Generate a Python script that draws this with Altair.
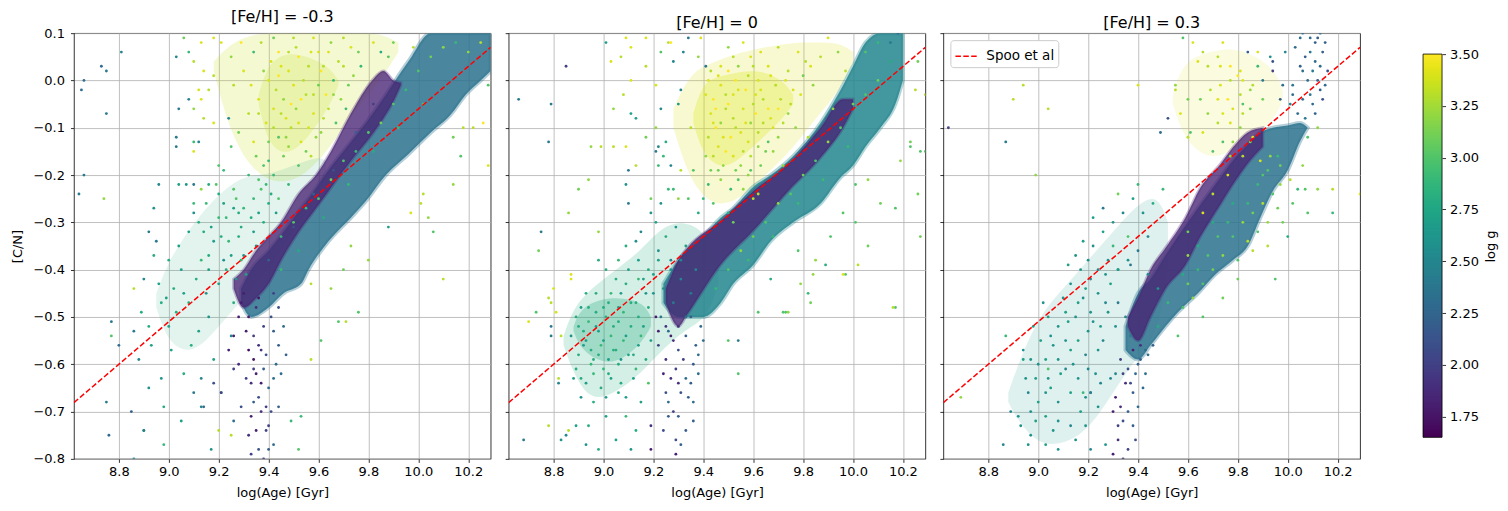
import altair as alt
import pandas as pd

FONT = "DejaVu Sans"
TITLES = ["[Fe/H] = -0.3", "[Fe/H] = 0", "[Fe/H] = 0.3"]
X_DOMAIN = [8.62, 10.29]
Y_DOMAIN = [-0.8, 0.1]
G_DOMAIN = [1.65, 3.5]
CB_VIEW = [1.546, 3.601]
X_TICKS = [8.8, 9.0, 9.2, 9.4, 9.6, 9.8, 10.0, 10.2]
Y_TICKS = [-0.8, -0.7, -0.6, -0.5, -0.4, -0.3, -0.2, -0.1, 0.0, 0.1]
G_TICKS = [1.75, 2.0, 2.25, 2.5, 2.75, 3.0, 3.25, 3.5]
SPOO_LABEL = ["Spoo et al", "Spoo et al"]
SPOO_X = [8.62, 10.29]
SPOO_Y = [-0.681, 0.070]

# ---------------- dense bands (x, lower edge, upper edge) and their log g --------
P1_TEAL_X = [9.29, 9.33, 9.40, 9.46, 9.53, 9.56, 9.64, 9.73, 9.79, 9.87, 9.96, 10.05, 10.13, 10.19, 10.25, 10.29]
P1_TEAL_LO = [-0.47, -0.50, -0.48, -0.45, -0.43, -0.40, -0.34, -0.29, -0.255, -0.20, -0.156, -0.11, -0.072, -0.03, 0.0, 0.02]
P1_TEAL_HI = [-0.44, -0.40, -0.36, -0.32, -0.27, -0.25, -0.19, -0.13, -0.09, -0.03, 0.04, 0.10, 0.10, 0.10, 0.10, 0.10]
P1_PURP_X = [9.26, 9.30, 9.35, 9.40, 9.45, 9.52, 9.59, 9.65, 9.73, 9.815, 9.86, 9.90, 9.93]
P1_PURP_LO = [-0.44, -0.48, -0.46, -0.43, -0.38, -0.32, -0.27, -0.227, -0.17, -0.114, -0.08, -0.044, -0.01]
P1_PURP_HI = [-0.42, -0.40, -0.36, -0.33, -0.30, -0.24, -0.20, -0.15, -0.07, 0.0, 0.02, 0.0, -0.005]
P1_YELW_X = [9.18, 9.25, 9.35, 9.45, 9.55, 9.65, 9.75, 9.85, 9.92]
P1_YELW_LO = [0.02, -0.12, -0.20, -0.22, -0.20, -0.14, -0.06, 0.0, 0.06]
P1_YELW_HI = [0.04, 0.08, 0.10, 0.10, 0.10, 0.10, 0.10, 0.10, 0.08]
P1_YELC_X = [9.36, 9.40, 9.48, 9.56, 9.64, 9.68]
P1_YELC_LO = [-0.05, -0.14, -0.16, -0.12, -0.06, -0.01]
P1_YELC_HI = [-0.03, 0.04, 0.06, 0.05, 0.03, 0.0]
P1_GRNW_X = [8.95, 9.00, 9.10, 9.20, 9.30, 9.40, 9.50, 9.60, 9.63]
P1_GRNW_LO = [-0.48, -0.56, -0.58, -0.52, -0.46, -0.40, -0.32, -0.24, -0.19]
P1_GRNW_HI = [-0.45, -0.38, -0.30, -0.24, -0.20, -0.20, -0.18, -0.16, -0.17]

P2_TEAL_X = [9.24, 9.30, 9.40, 9.47, 9.52, 9.60, 9.67, 9.76, 9.87, 9.95, 10.00, 10.05, 10.11, 10.17, 10.20]
P2_TEAL_LO = [-0.47, -0.50, -0.50, -0.47, -0.43, -0.39, -0.34, -0.30, -0.26, -0.205, -0.18, -0.14, -0.10, -0.05, 0.0]
P2_TEAL_HI = [-0.43, -0.38, -0.33, -0.29, -0.27, -0.225, -0.20, -0.16, -0.09, -0.02, 0.03, 0.08, 0.10, 0.10, 0.10]
P2_PURP_X = [9.25, 9.30, 9.336, 9.47, 9.60, 9.74, 9.87, 9.96, 10.00]
P2_PURP_LO = [-0.47, -0.52, -0.494, -0.389, -0.318, -0.234, -0.163, -0.10, -0.06]
P2_PURP_HI = [-0.44, -0.38, -0.354, -0.297, -0.234, -0.177, -0.10, -0.04, -0.04]
P2_YELW_X = [9.28, 9.35, 9.45, 9.55, 9.65, 9.75, 9.85, 9.95, 10.00]
P2_YELW_LO = [-0.10, -0.22, -0.27, -0.25, -0.20, -0.15, -0.08, -0.02, 0.04]
P2_YELW_HI = [-0.06, 0.02, 0.04, 0.06, 0.07, 0.08, 0.08, 0.08, 0.06]
P2_YELC_X = [9.36, 9.40, 9.48, 9.56, 9.64, 9.72, 9.76]
P2_YELC_LO = [-0.09, -0.16, -0.19, -0.16, -0.12, -0.08, -0.05]
P2_YELC_HI = [-0.07, 0.0, 0.01, 0.02, 0.02, 0.0, -0.03]
P2_GRNW_X = [8.84, 8.88, 8.95, 9.05, 9.15, 9.25, 9.35, 9.42, 9.46]
P2_GRNW_LO = [-0.56, -0.62, -0.68, -0.66, -0.62, -0.56, -0.52, -0.50, -0.43]
P2_GRNW_HI = [-0.54, -0.48, -0.44, -0.40, -0.36, -0.30, -0.30, -0.33, -0.40]
P2_GRNC_X = [8.88, 8.91, 9.00, 9.08, 9.16, 9.19]
P2_GRNC_LO = [-0.53, -0.57, -0.60, -0.59, -0.55, -0.52]
P2_GRNC_HI = [-0.52, -0.48, -0.46, -0.46, -0.47, -0.50]

P3_TEAL_X = [9.35, 9.40, 9.45, 9.51, 9.56, 9.64, 9.71, 9.78, 9.84, 9.89, 9.94, 10.00, 10.05, 10.08]
P3_TEAL_LO = [-0.57, -0.59, -0.56, -0.52, -0.49, -0.45, -0.41, -0.38, -0.35, -0.29, -0.234, -0.19, -0.128, -0.10]
P3_TEAL_HI = [-0.52, -0.45, -0.42, -0.37, -0.33, -0.27, -0.22, -0.17, -0.135, -0.11, -0.10, -0.095, -0.09, -0.10]
P3_PURP_X = [9.36, 9.40, 9.45, 9.51, 9.59, 9.65, 9.73, 9.78, 9.84, 9.90]
P3_PURP_LO = [-0.52, -0.55, -0.50, -0.44, -0.39, -0.33, -0.262, -0.22, -0.175, -0.14]
P3_PURP_HI = [-0.50, -0.46, -0.40, -0.354, -0.29, -0.227, -0.177, -0.142, -0.11, -0.10]
P3_YELW_X = [9.54, 9.58, 9.68, 9.78, 9.88, 9.95, 9.98]
P3_YELW_LO = [-0.05, -0.12, -0.17, -0.15, -0.11, -0.08, -0.04]
P3_YELW_HI = [-0.03, 0.04, 0.06, 0.07, 0.05, 0.02, -0.02]
P3_GRNW_X = [8.88, 8.92, 9.00, 9.10, 9.20, 9.30, 9.40, 9.48, 9.52]
P3_GRNW_LO = [-0.68, -0.72, -0.77, -0.77, -0.74, -0.66, -0.58, -0.54, -0.40]
P3_GRNW_HI = [-0.66, -0.60, -0.50, -0.44, -0.38, -0.32, -0.26, -0.24, -0.30]

BAND_G_TEAL = [2.35, 2.5, 2.35]
BAND_G_PURP = [1.82, 1.82, 1.82]
BAND_G_YELW = [3.35, 3.4, 3.4]
BAND_G_GRNW = [2.85, 2.8, 2.65]

# ---------------- individual stars (logAge, [C/N], log g) ----------------
P1_OUT = [(8.66,0.00,2.3),(8.65,-0.02,2.3),(8.73,0.03,2.3),(8.75,0.02,2.4),(8.75,-0.07,2.4),(8.81,0.06,2.5),
          (8.66,-0.20,2.4),(8.64,-0.24,2.4),(8.74,-0.25,3.2),(8.96,-0.22,2.5),(8.94,-0.27,2.6),(8.92,-0.32,2.4),
          (8.95,-0.34,2.4),(9.03,0.05,2.5),(9.04,-0.06,2.4),(9.03,-0.12,2.4),(9.03,-0.14,2.4),(9.08,-0.04,2.5),
          (9.12,-0.13,2.5),(9.10,-0.22,2.4),(10.18,-0.10,3.3),(10.14,-0.12,3.1),(10.17,-0.16,3.0),(10.22,-0.10,3.3),
          (10.14,-0.22,3.2),(10.02,-0.24,3.3),(10.01,-0.26,3.3),(10.04,-0.29,3.2),(10.06,-0.32,3.0),(9.97,-0.28,3.4),
          (9.88,-0.31,2.7),(9.73,-0.35,3.2),(10.28,-0.18,3.4),(10.26,-0.09,3.5),(10.28,-0.01,3.0),(9.70,-0.40,3.1),
          (9.65,-0.44,3.2),(9.57,-0.43,3.3),(9.76,-0.49,3.0),(9.68,-0.51,3.0),(9.71,-0.51,3.3),(9.61,-0.55,3.0),
          (9.57,-0.59,3.3),(9.80,-0.38,3.2),(10.10,-0.42,3.3),(8.77,-0.51,2.4),(8.77,-0.54,3.0),(8.75,-0.68,2.4),
          (8.76,-0.75,2.3),(9.49,-0.72,2.9),(9.53,-0.71,2.9),(9.52,-0.78,3.0)]
P1_YEL = [(9.06,0.09,3.1),(9.13,0.08,3.4),(9.18,0.09,3.4),(9.10,0.04,3.3),(9.14,0.02,3.4),(9.08,0.06,2.9),
          (9.18,0.01,3.3),(9.12,-0.02,3.4),(9.16,-0.02,3.3),(9.13,-0.04,3.4),(9.10,-0.06,3.2),(9.14,-0.08,3.3),
          (9.18,-0.09,3.4),(9.10,-0.13,2.9),(9.10,-0.15,3.4),(9.20,-0.18,3.0),(9.22,-0.19,2.9),(9.16,-0.22,2.8),
          (9.07,-0.22,2.6),(9.13,-0.23,3.2),(9.04,-0.22,2.7),(9.21,0.08,3.4),(9.25,0.05,3.2),(9.29,0.08,3.5),
          (9.26,-0.01,3.3),(9.30,0.02,3.4),(9.34,0.06,2.9),(9.36,-0.04,3.4),(9.32,-0.07,3.3),(9.24,-0.08,2.5),
          (9.28,-0.11,3.1),(9.34,-0.13,3.4),(9.25,-0.14,3.0),(9.37,0.08,3.3),(9.41,0.04,3.4),(9.44,0.01,3.5),
          (9.48,0.06,3.3),(9.50,-0.01,3.4),(9.46,-0.04,3.2),(9.42,-0.06,3.4),(9.53,-0.04,3.5),(9.56,0.03,3.3),
          (9.60,-0.01,3.1),(9.58,-0.07,3.4),(9.49,-0.10,3.3),(9.44,-0.12,3.0),(9.53,-0.13,3.4),(9.61,-0.11,3.2),
          (9.64,-0.06,3.3),(9.66,0.00,2.9),(9.68,0.04,3.3),(9.73,0.07,3.4),(9.65,0.08,3.2),(9.58,0.09,3.4),
          (9.50,0.09,3.3),(9.42,0.09,3.1),(9.46,-0.16,3.1),(9.40,-0.17,2.9),(9.57,-0.16,3.3),(9.72,-0.01,3.1),
          (9.77,0.03,2.9),(9.82,0.08,3.4),(9.88,0.05,3.0),(9.45,0.03,3.4),(9.52,0.05,3.5),(9.55,-0.03,3.3),
          (9.47,-0.08,3.4),(9.51,-0.06,3.2),(9.56,-0.10,3.4),(9.62,0.03,3.3),(9.63,-0.03,3.5),(9.69,-0.04,3.2),
          (9.43,-0.02,3.3),(9.39,-0.09,3.4),(9.38,0.02,3.2),(9.60,0.06,3.4),(9.70,0.09,3.3),(9.76,0.06,3.1),
          (9.35,-0.16,3.1),(9.48,-0.14,3.2),(9.52,-0.18,3.0),(9.40,0.00,3.4),(9.42,-0.10,3.3),(9.44,0.06,3.5),
          (9.45,-0.07,3.3),(9.47,-0.12,3.2),(9.48,0.02,3.4),(9.49,-0.05,3.5),(9.51,0.07,3.3),(9.52,-0.09,3.4),
          (9.54,0.00,3.3),(9.55,-0.15,3.1),(9.57,0.06,3.4),(9.58,-0.03,3.3),(9.59,-0.12,3.2),(9.61,0.02,3.5),
          (9.62,-0.08,3.3),(9.64,0.06,3.4),(9.66,-0.03,3.2),(9.67,-0.09,3.0),(9.70,0.03,3.3),(9.71,-0.06,2.9),
          (9.74,0.01,3.2),(9.40,-0.13,3.1),(9.36,-0.07,3.3),(9.33,-0.01,3.4)]
P1_GRN = [(8.86,-0.44,3.3),(8.90,-0.42,2.5),(8.89,-0.49,2.8),(8.88,-0.59,2.5),(8.86,-0.53,2.4),(8.80,-0.56,2.3),
          (8.92,-0.52,2.8),(8.93,-0.56,2.7),(8.96,-0.43,2.7),(8.97,-0.47,2.8),(9.00,-0.52,2.7),(9.02,-0.44,2.8),
          (9.01,-0.57,2.7),(8.97,-0.63,2.6),(8.92,-0.65,2.6),(8.90,-0.74,2.9),(8.86,-0.80,2.5),(8.98,-0.69,2.8),
          (8.98,-0.77,2.9),(9.05,-0.40,2.7),(9.08,-0.47,2.8),(9.09,-0.56,2.8),(9.13,-0.63,2.5),(9.16,-0.50,2.6),
          (9.20,-0.43,2.7),(9.18,-0.59,2.7),(9.21,-0.66,2.6),(9.25,-0.54,2.5),(9.13,-0.69,2.5),(9.17,-0.78,2.6),
          (9.05,-0.72,2.7),(9.10,-0.66,2.4),(8.94,-0.37,2.8),(9.00,-0.38,2.8),(9.13,-0.38,2.9),(9.06,-0.62,2.8),
          (9.26,-0.47,2.8),(9.29,-0.38,2.9),(8.85,-0.70,2.2),(8.90,-0.74,2.4),(9.20,-0.74,3.3),(9.25,-0.75,3.3),
          (9.20,-0.24,2.8),(9.26,-0.23,3.0),(9.32,-0.20,2.9),(9.26,-0.27,2.7),(9.20,-0.29,2.9),(9.14,-0.32,2.8),
          (9.10,-0.28,2.6),(9.08,-0.32,2.7),(9.04,-0.35,2.7),(9.16,-0.37,2.8),(9.24,-0.34,2.9),(9.29,-0.31,2.8),
          (9.34,-0.25,2.9),(9.37,-0.23,3.0),(9.34,-0.32,2.7),(9.30,-0.37,2.6),(9.38,-0.18,3.0),(9.42,-0.20,2.9),
          (9.22,-0.26,2.7),(9.10,-0.26,2.9),(9.06,-0.45,2.7),(9.11,-0.42,2.8),(9.15,-0.45,2.6),(9.03,-0.49,2.8),
          (8.99,-0.46,2.7),(9.12,-0.53,2.7),(9.23,-0.40,2.8),(9.27,-0.42,2.6),(9.18,-0.34,2.7),(9.28,-0.28,2.8),
          (9.36,-0.28,2.7),(9.40,-0.26,2.8),(9.44,-0.25,3.0),(9.48,-0.22,2.9),(9.12,-0.30,2.8),(9.15,-0.26,2.9),
          (9.17,-0.31,2.7),(9.19,-0.22,3.0),(9.21,-0.33,2.8),(9.23,-0.29,2.9),(9.25,-0.37,2.7),(9.27,-0.25,3.0),
          (9.28,-0.33,2.8),(9.30,-0.27,2.9),(9.31,-0.41,2.7),(9.33,-0.29,2.8),(9.35,-0.35,2.6),(9.36,-0.21,3.0),
          (9.38,-0.30,2.8),(9.39,-0.22,2.9),(9.41,-0.24,2.8),(9.43,-0.28,2.7),(9.22,-0.38,2.6),(9.16,-0.40,2.7)]
P1_TAIL = [(9.29,-0.47,1.8),(9.32,-0.50,1.8),(9.34,-0.54,2.0),(9.37,-0.57,1.9),(9.34,-0.61,2.0),(9.38,-0.61,2.2),
           (9.33,-0.64,1.9),(9.36,-0.67,2.1),(9.39,-0.69,2.0),(9.33,-0.71,1.8),(9.40,-0.65,2.3),(9.42,-0.63,2.3),
           (9.44,-0.56,2.2),(9.41,-0.50,2.1),(9.46,-0.52,2.3),(9.26,-0.54,1.8),(9.24,-0.57,1.8),(9.26,-0.61,2.0),
           (9.29,-0.69,2.1),(9.32,-0.75,1.9),(9.36,-0.78,2.1),(9.40,-0.73,2.0),(9.40,-0.78,2.2),(9.34,-0.59,1.75),
           (9.32,-0.57,1.7),(9.37,-0.64,1.8),(9.44,-0.69,2.2),(9.21,-0.66,2.0),(9.18,-0.64,2.1),(9.14,-0.69,2.3),
           (9.26,-0.72,2.3),(9.42,-0.77,2.3),(9.30,-0.45,1.8),(9.35,-0.48,1.9),(9.38,-0.52,2.0),(9.42,-0.53,2.2),
           (9.31,-0.53,1.8),(9.36,-0.56,1.9),(9.39,-0.58,2.1),(9.43,-0.60,2.3),(9.35,-0.62,1.8),(9.31,-0.63,2.0),
           (9.37,-0.70,1.9),(9.34,-0.68,2.2),(9.39,-0.74,2.0),(9.35,-0.74,1.8),(9.33,-0.79,2.0),(9.38,-0.80,1.9),
           (9.28,-0.60,1.9),(9.41,-0.70,2.1),(9.45,-0.62,2.3),(9.47,-0.58,2.2),(9.44,-0.48,2.1),(9.28,-0.50,1.8),
           (9.36,-0.46,1.75),(9.42,-0.45,2.0)]
P1_SPK = [(9.45,-0.33,2.9),(9.50,-0.30,3.0),(9.55,-0.27,2.9),(9.60,-0.25,3.0),(9.65,-0.21,3.1),(9.70,-0.17,3.0),
          (9.75,-0.15,2.9),(9.80,-0.11,3.0),(9.85,-0.09,3.1),(9.90,-0.05,3.0),(9.95,-0.02,2.9),(10.00,0.02,3.0),
          (10.05,0.05,3.1),(10.10,0.07,3.2),(10.15,0.08,2.9),(9.62,-0.29,2.8),(9.72,-0.22,2.9),(9.82,-0.15,2.8),
          (9.92,-0.10,2.9),(10.02,-0.05,3.0),(9.52,-0.36,2.8),(9.45,-0.40,2.9),(10.20,0.06,3.2),(10.25,0.08,3.3),
          (9.98,0.07,3.3),(9.90,0.08,3.1),(9.85,0.06,2.8),(9.40,-0.38,2.2),(9.50,-0.31,2.1),(9.58,-0.24,2.2),
          (9.66,-0.19,2.1),(9.75,-0.11,2.2),(9.82,-0.05,2.0)]

P2_OUT = [(8.66,-0.04,2.4),(8.79,-0.05,2.4),(8.85,0.03,2.0),(8.78,-0.13,2.4),(8.75,-0.32,2.4),(8.74,-0.36,3.1),
          (8.86,-0.28,3.2),(8.90,-0.23,3.1),(8.94,-0.21,3.2),(8.95,-0.14,3.2),(8.99,-0.14,3.3),(8.98,-0.32,3.2),
          (9.01,0.08,2.7),(9.04,-0.14,3.3),(9.04,-0.06,3.2),(9.08,-0.03,3.3),(9.09,-0.14,3.4),(9.03,0.04,3.4),
          (9.07,0.05,3.3),(9.09,0.09,3.4),(9.11,0.00,3.4),(9.11,0.07,3.4),(9.11,-0.07,2.7),(9.13,-0.08,2.7),
          (9.13,-0.18,3.3),(9.09,-0.22,2.6),(9.10,-0.26,2.4),(9.10,-0.19,2.4),(9.17,0.09,3.4),(9.17,0.03,3.3),
          (9.21,-0.01,3.4),(9.21,-0.15,2.4),(9.17,-0.12,3.1),(9.23,0.06,3.0),(9.26,0.08,3.3),(9.27,0.08,3.5),
          (9.34,0.09,2.4),(9.32,0.06,2.5),(9.28,0.04,2.5),(9.31,-0.02,2.5),(9.30,-0.05,2.6),(9.23,-0.06,2.5),
          (9.21,-0.10,3.2),(9.25,-0.13,2.8),(9.22,-0.18,2.9),(9.27,-0.18,2.5),(9.26,-0.23,2.9),(9.30,-0.25,3.2),
          (9.35,-0.10,3.3),(9.38,0.05,3.2),(9.39,0.09,3.4),(9.41,0.03,2.4),(9.19,-0.25,3.1),(9.19,-0.28,2.6),
          (9.15,-0.32,2.5),(9.13,-0.34,2.6),(9.09,-0.35,2.8),(10.29,-0.15,3.0),(10.26,-0.24,3.1),(10.17,-0.27,3.0),
          (10.11,-0.26,3.1),(10.27,-0.33,3.1),(10.17,-0.48,3.0),(10.06,-0.35,3.1),(10.01,-0.30,3.0),(9.96,-0.28,3.0),
          (9.91,-0.33,3.0),(9.85,-0.38,3.2),(9.78,-0.36,3.0),(9.82,-0.45,2.9),(9.97,-0.41,3.0),(9.72,-0.49,3.0),
          (9.83,-0.47,3.1),(10.19,-0.17,3.2),(10.23,-0.14,3.0),(10.25,-0.02,3.3),(10.29,-0.03,3.3),(10.26,0.04,3.1),
          (10.01,-0.22,3.0),(10.06,-0.21,3.2),(9.84,-0.41,3.2),(9.96,-0.41,3.4),(10.02,-0.39,3.3),(9.79,-0.43,3.2),
          (9.73,-0.49,3.0),(9.74,-0.49,3.2),(9.62,-0.49,3.0),(9.67,-0.42,2.8),(9.54,-0.62,3.0),(9.50,-0.55,3.0),
          (9.54,-0.55,2.4),(10.16,-0.48,3.3),(9.89,-0.39,2.8),(10.15,0.08,2.4),(10.18,0.10,2.3),(10.23,-0.13,3.1),
          (10.27,-0.15,3.0)]
P2_YEL = [(9.42,0.00,3.4),(9.44,-0.04,3.5),(9.47,-0.01,3.4),(9.50,-0.05,3.5),(9.54,-0.02,3.4),(9.56,-0.06,3.4),
          (9.52,-0.08,3.3),(9.47,-0.09,3.2),(9.43,-0.07,3.4),(9.42,-0.12,3.3),(9.46,-0.14,3.4),(9.51,-0.12,3.5),
          (9.55,-0.11,3.4),(9.59,-0.09,3.2),(9.60,-0.05,3.3),(9.63,-0.02,3.4),(9.66,-0.06,3.5),(9.68,-0.10,3.4),
          (9.71,-0.04,3.3),(9.74,-0.07,3.2),(9.76,-0.02,3.4),(9.67,0.01,3.4),(9.60,0.03,3.3),(9.54,0.03,3.2),
          (9.47,0.03,3.4),(9.74,0.02,3.3),(9.80,0.01,3.1),(9.83,0.03,3.4),(9.87,0.05,3.3),(9.94,0.06,3.2),
          (9.78,0.06,3.4),(9.70,0.07,3.3),(9.63,0.06,3.4),(9.56,0.08,3.4),(9.50,0.07,3.2),(9.90,0.09,3.4),
          (9.44,-0.16,3.3),(9.48,-0.18,3.2),(9.52,-0.16,3.4),(9.56,-0.15,3.3),(9.62,-0.14,3.2),(9.66,-0.13,3.0),
          (9.43,-0.19,3.1),(9.47,-0.21,3.2),(9.54,-0.21,3.0),(9.59,-0.19,3.0),(9.51,-0.23,2.9),(9.56,-0.23,3.2),
          (9.60,-0.25,3.3),(9.42,-0.22,2.9),(9.40,-0.25,2.9),(9.44,-0.26,3.0),(9.50,-0.28,2.8),(9.38,-0.28,2.8),
          (9.34,-0.25,3.0),(9.28,-0.23,2.9),(9.24,-0.16,2.9),(9.23,-0.26,2.6),(9.22,-0.14,2.5),(9.36,-0.19,3.0),
          (9.31,-0.19,3.3),(9.45,-0.10,3.5),(9.49,-0.03,3.3),(9.58,-0.13,3.4),(9.64,-0.09,3.3),(9.70,-0.12,3.2),
          (9.53,0.00,3.5),(9.61,-0.03,3.4),(9.41,-0.03,3.4),(9.43,0.02,3.3),(9.45,-0.06,3.5),(9.46,0.01,3.4),
          (9.48,-0.12,3.4),(9.49,-0.06,3.3),(9.50,0.02,3.5),(9.52,-0.03,3.4),(9.53,-0.10,3.3),(9.55,-0.18,3.2),
          (9.57,-0.02,3.5),(9.57,-0.09,3.4),(9.58,0.01,3.3),(9.59,-0.16,3.3),(9.61,-0.07,3.5),(9.62,-0.11,3.3),
          (9.62,0.00,3.4),(9.64,-0.04,3.3),(9.65,-0.15,3.1),(9.66,0.03,3.4),(9.67,-0.08,3.4),(9.69,-0.01,3.3),
          (9.70,-0.06,3.5),(9.72,-0.09,3.3),(9.73,0.00,3.4),(9.75,-0.05,3.3),(9.77,-0.10,3.2),(9.79,-0.03,3.4),
          (9.81,0.04,3.3),(9.84,-0.01,3.2),(9.44,-0.09,3.4),(9.46,-0.19,3.1),(9.41,-0.16,3.2),(9.49,-0.15,3.5),
          (9.53,-0.19,3.1),(9.58,-0.20,3.2),(9.63,-0.18,3.1),(9.68,-0.15,3.2),(9.52,0.05,3.3),(9.59,0.05,3.4)]
P2_GRN = [(8.89,-0.50,2.8),(8.91,-0.48,2.7),(8.94,-0.51,2.9),(8.97,-0.49,2.8),(8.98,-0.53,2.7),(9.01,-0.50,2.8),
          (9.03,-0.54,2.9),(9.06,-0.51,2.8),(9.09,-0.54,2.7),(9.11,-0.52,2.8),(9.14,-0.56,2.7),(8.93,-0.55,2.7),
          (8.95,-0.57,2.8),(8.99,-0.56,2.9),(9.02,-0.59,2.7),(9.05,-0.57,2.8),(9.07,-0.59,2.6),(8.90,-0.58,2.8),
          (8.87,-0.54,2.6),(8.97,-0.45,2.8),(9.02,-0.47,2.8),(9.07,-0.45,2.7),(9.13,-0.47,2.8),(9.17,-0.45,2.6),
          (9.05,-0.42,2.8),(9.10,-0.40,2.7),(9.14,-0.42,2.9),(9.18,-0.40,2.8),(9.22,-0.38,2.7),(9.01,-0.40,2.8),
          (8.98,-0.38,2.8),(9.06,-0.38,2.9),(9.14,-0.38,2.7),(9.27,-0.40,2.6),(9.31,-0.38,2.5),(8.89,-0.61,2.8),
          (8.93,-0.64,2.7),(8.96,-0.62,2.9),(8.99,-0.65,2.8),(9.03,-0.63,2.7),(9.06,-0.66,2.8),(8.91,-0.67,2.6),
          (8.96,-0.68,2.8),(9.01,-0.71,2.7),(8.94,-0.73,2.8),(8.89,-0.73,2.7),(8.93,-0.77,2.6),(8.98,-0.78,2.8),
          (9.05,-0.76,2.7),(9.09,-0.71,2.9),(9.13,-0.74,2.8),(9.11,-0.78,2.6),(9.15,-0.68,2.7),(9.18,-0.64,3.0),
          (9.13,-0.61,2.9),(9.17,-0.59,2.8),(8.85,-0.75,2.5),(8.83,-0.76,2.6),(8.86,-0.74,3.3),(8.79,-0.54,2.4),
          (8.82,-0.64,2.5),(8.73,-0.49,3.0),(8.79,-0.47,3.3),(8.78,-0.46,3.3),(8.81,-0.49,3.4),(8.83,-0.54,3.3),
          (8.79,-0.52,2.4),(8.70,-0.51,3.4),(8.68,-0.76,2.4),(8.78,-0.73,3.3),(8.82,-0.63,3.3),(8.87,-0.41,3.4),
          (8.87,-0.42,3.4),(8.80,-0.44,3.4),(9.21,-0.30,2.7),(9.25,-0.33,2.8),(9.29,-0.31,2.6),(9.33,-0.35,2.7),
          (9.22,-0.36,2.6),(9.27,-0.38,2.5),(9.31,-0.42,2.5),(9.35,-0.45,2.4),(9.24,-0.44,2.6),(9.20,-0.41,2.7),
          (9.28,-0.47,2.4),(9.33,-0.50,2.3),(9.37,-0.40,2.5),(9.23,-0.50,2.4),(9.26,-0.53,2.3),(8.92,-0.53,2.8),
          (8.96,-0.59,2.8),(9.00,-0.61,2.9),(9.04,-0.52,2.8),(9.08,-0.49,2.9),(9.12,-0.58,2.8),(9.16,-0.52,2.7),
          (8.90,-0.52,2.8),(8.92,-0.56,2.7),(8.94,-0.48,2.8),(8.95,-0.60,2.9),(8.97,-0.52,2.7),(8.98,-0.58,2.8),
          (9.00,-0.48,2.8),(9.00,-0.55,2.7),(9.02,-0.62,2.8),(9.03,-0.45,2.9),(9.04,-0.57,2.8),(9.06,-0.48,2.7),
          (9.06,-0.60,2.8),(9.08,-0.55,2.9),(9.09,-0.43,2.8),(9.10,-0.58,2.7),(9.11,-0.47,2.8),(9.12,-0.63,2.7),
          (9.14,-0.50,2.8),(9.15,-0.54,2.9),(9.16,-0.42,2.7),(9.18,-0.48,2.8),(9.19,-0.55,2.7),(9.20,-0.45,2.6),
          (8.88,-0.63,2.7),(8.91,-0.63,2.8),(9.01,-0.67,2.7),(9.07,-0.64,2.8),(8.93,-0.45,2.8),(9.09,-0.67,2.7)]
P2_TAIL = [(9.21,-0.50,1.8),(9.25,-0.52,1.9),(9.27,-0.54,1.8),(9.22,-0.56,2.0),(9.30,-0.57,2.1),(9.33,-0.54,2.2),
           (9.25,-0.59,1.9),(9.29,-0.61,2.0),(9.33,-0.63,2.3),(9.35,-0.64,2.2),(9.30,-0.64,1.9),(9.25,-0.66,2.1),
           (9.26,-0.68,2.3),(9.34,-0.67,2.2),(9.38,-0.62,2.3),(9.37,-0.56,2.2),(9.39,-0.52,2.3),(9.30,-0.71,2.2),
           (9.29,-0.76,2.1),(9.31,-0.77,2.2),(9.29,-0.79,1.8),(9.19,-0.78,1.8),(9.36,-0.72,2.2),(9.24,-0.74,2.1),
           (9.19,-0.73,1.9),(9.22,-0.53,1.8),(9.28,-0.55,1.9),(9.32,-0.59,2.0),(9.36,-0.60,2.2),(9.27,-0.63,1.9),
           (9.31,-0.66,2.1),(9.36,-0.68,2.3),(9.28,-0.70,2.0),(9.33,-0.74,2.2),(9.38,-0.58,2.3),(9.40,-0.55,2.3),
           (9.24,-0.62,1.8),(9.35,-0.50,2.2),(9.30,-0.52,1.9),(9.26,-0.71,2.2)]
P2_SPK = [(9.50,-0.40,3.0),(9.55,-0.36,3.2),(9.60,-0.33,3.1),(9.65,-0.30,3.0),(9.70,-0.26,3.2),(9.75,-0.24,3.0),
          (9.80,-0.20,3.1),(9.85,-0.17,3.0),(9.90,-0.13,3.2),(9.95,-0.10,3.0),(10.00,-0.05,3.1),(10.05,-0.03,3.0),
          (10.10,0.00,3.1),(9.58,-0.38,2.9),(9.68,-0.33,2.9),(9.78,-0.26,2.9),(9.88,-0.21,2.9),(9.98,-0.14,2.9),
          (9.45,-0.44,2.9),(9.52,-0.30,3.1),(9.62,-0.24,3.3),(9.72,-0.18,3.2),(9.82,-0.12,3.3),(9.92,-0.06,3.2),
          (9.97,0.02,3.3),(10.05,0.06,3.0),(10.10,0.08,2.9),(10.15,0.04,2.8)]

P3_OUT = [(8.64,-0.10,2.0),(8.87,-0.13,2.4),(8.94,-0.01,3.3),(8.90,-0.04,3.3),(9.04,-0.06,3.3),(8.99,-0.20,3.2),
          (9.40,-0.01,3.4),(9.55,-0.02,3.3),(9.52,-0.08,2.1),(9.49,-0.11,2.3),(9.58,0.09,3.0),(9.62,0.08,3.4),
          (9.66,0.06,3.3),(9.74,0.08,3.4),(9.84,0.06,2.2),(9.88,0.06,3.4),(9.93,0.05,2.6),(9.99,0.06,2.5),
          (10.05,0.09,2.3),(10.09,0.09,2.3),(10.12,0.09,2.2),(10.14,0.06,2.2),(10.13,0.03,2.3),(10.10,0.02,2.4),
          (10.08,0.00,2.3),(10.12,0.00,2.2),(10.14,-0.04,2.1),(10.06,-0.04,2.3),(10.02,-0.01,2.4),(10.01,-0.05,2.5),
          (9.98,-0.01,2.3),(9.94,0.02,2.0),(9.90,0.00,2.4),(9.94,0.04,2.1),(10.06,0.02,2.3),(10.04,-0.07,2.3),
          (10.11,-0.07,2.2),(10.09,-0.03,2.4),(9.97,-0.04,2.2),(10.18,-0.23,3.3),(10.12,-0.23,3.2),(10.07,-0.23,3.0),
          (10.08,-0.28,3.0),(10.18,-0.28,2.9),(10.29,-0.24,3.4),(10.06,-0.18,3.2),(10.01,-0.21,3.3),(10.00,-0.33,2.8),
          (10.04,-0.23,2.9),(10.12,-0.10,3.2),(10.08,-0.12,3.0),(8.69,-0.67,3.2),(8.87,-0.54,2.9),(9.60,-0.37,3.2),
          (9.95,-0.42,3.0),(10.03,0.07,2.3),(10.07,0.05,2.2),(10.11,0.04,2.3),(10.15,0.08,2.2),(10.13,0.10,2.3),
          (10.09,0.06,2.4),(10.05,0.03,2.2),(10.10,-0.05,2.3),(10.13,-0.02,2.2),(10.07,-0.08,2.4),(10.02,-0.03,2.3),
          (10.16,0.02,2.1),(10.15,-0.01,2.3),(10.11,0.08,2.2),(10.06,0.10,2.3)]
P3_YEL = [(9.64,0.04,3.4),(9.68,0.03,3.3),(9.73,0.03,3.4),(9.77,0.03,3.5),(9.81,0.02,3.4),(9.77,0.00,3.3),
          (9.73,-0.01,3.4),(9.69,-0.02,3.3),(9.65,-0.04,3.1),(9.72,-0.04,3.4),(9.76,-0.04,3.5),(9.81,-0.03,3.3),
          (9.85,-0.02,3.2),(9.74,-0.07,3.4),(9.78,-0.06,3.4),(9.82,-0.07,3.3),(9.85,-0.06,3.1),(9.72,-0.09,3.3),
          (9.77,-0.09,3.4),(9.81,-0.10,3.2),(9.68,-0.07,3.2),(9.61,-0.11,3.0),(9.60,-0.12,3.3),(9.66,-0.11,3.4),
          (9.74,-0.13,3.0),(9.78,-0.13,3.2),(9.70,-0.15,3.0),(9.77,-0.16,3.2),(9.82,-0.05,3.0),(9.90,-0.04,3.1),
          (9.86,-0.01,3.3),(9.88,0.03,2.9),(9.72,0.05,3.3),(9.80,0.01,3.5),(9.82,0.00,3.4),(9.55,-0.01,3.2),
          (9.60,-0.04,3.1),(9.57,-0.07,3.4),(9.85,-0.13,3.1),(9.89,-0.17,3.4),(9.90,-0.20,3.0),(9.93,-0.16,3.2),
          (9.97,-0.18,3.1)]
P3_GRN = [(9.17,-0.40,2.6),(9.21,-0.42,2.5),(9.27,-0.41,2.6),(9.32,-0.40,2.5),(9.37,-0.39,2.4),(9.29,-0.43,2.7),
          (9.24,-0.45,2.6),(9.19,-0.44,2.7),(9.13,-0.43,2.6),(9.16,-0.47,2.7),(9.21,-0.49,2.6),(9.27,-0.47,2.5),
          (9.32,-0.47,2.4),(9.35,-0.50,2.5),(9.37,-0.54,2.4),(9.31,-0.52,2.6),(9.25,-0.52,2.7),(9.20,-0.53,2.6),
          (9.15,-0.50,2.6),(9.11,-0.49,2.7),(9.08,-0.52,2.6),(9.04,-0.50,2.7),(9.05,-0.54,2.6),(9.01,-0.55,2.7),
          (9.11,-0.55,2.6),(9.13,-0.57,2.7),(9.08,-0.59,2.6),(9.03,-0.59,2.7),(8.97,-0.59,2.6),(8.99,-0.63,2.7),
          (9.04,-0.63,2.6),(9.11,-0.61,2.5),(9.16,-0.63,2.6),(9.20,-0.61,2.5),(9.19,-0.67,2.6),(9.13,-0.66,2.7),
          (9.08,-0.68,2.6),(9.03,-0.66,2.6),(9.00,-0.68,2.7),(8.96,-0.66,2.5),(8.97,-0.70,2.6),(9.03,-0.71,2.7),
          (9.08,-0.72,2.6),(9.13,-0.73,2.5),(8.92,-0.71,2.6),(8.89,-0.70,2.5),(8.93,-0.73,2.6),(8.97,-0.75,2.6),
          (9.03,-0.77,2.7),(9.08,-0.78,2.6),(8.86,-0.77,2.5),(8.96,-0.77,2.6),(9.19,-0.73,2.6),(9.21,-0.78,2.5),
          (9.27,-0.77,2.6),(9.17,-0.70,2.7),(9.24,-0.69,2.6),(9.21,-0.66,2.6),(9.25,-0.64,2.5),(9.29,-0.63,2.5),
          (9.24,-0.57,2.6),(8.94,-0.59,2.7),(8.94,-0.57,2.6),(9.04,-0.61,3.0),(9.18,-0.66,2.9),(9.31,-0.62,2.5),
          (9.21,-0.66,2.4),(9.22,-0.35,2.6),(9.26,-0.32,2.7),(9.30,-0.30,2.6),(9.34,-0.28,2.5),(9.38,-0.25,2.7),
          (9.42,-0.28,2.6),(9.44,-0.33,2.5),(9.40,-0.36,2.4),(9.36,-0.38,2.6),(9.32,-0.40,2.7),(9.28,-0.38,2.6),
          (9.24,-0.40,2.5),(9.20,-0.38,2.6),(9.18,-0.34,2.7),(9.15,-0.37,2.6),(9.46,-0.26,2.8),(9.50,-0.23,2.9),
          (9.36,-0.33,3.0),(9.30,-0.35,2.9),(9.26,-0.27,2.4),(9.32,-0.24,3.1),(9.40,-0.22,2.9),(9.22,-0.29,2.7),
          (9.12,-0.39,2.7),(9.44,-0.41,2.5),(9.48,-0.44,2.6),(8.98,-0.52,2.7),(9.00,-0.60,2.6),(9.02,-0.47,2.6),
          (9.05,-0.65,2.7),(9.06,-0.56,2.6),(9.09,-0.62,2.7),(9.10,-0.46,2.6),(9.12,-0.51,2.7),(9.14,-0.60,2.6),
          (9.16,-0.55,2.7),(9.18,-0.46,2.6),(9.19,-0.58,2.5),(9.22,-0.51,2.6),(9.23,-0.62,2.6),(9.26,-0.55,2.5),
          (9.28,-0.49,2.6),(8.95,-0.63,2.6),(8.99,-0.72,2.7),(9.06,-0.74,2.6),(9.15,-0.76,2.6)]
P3_TAIL = [(9.33,-0.59,2.0),(9.36,-0.61,2.1),(9.40,-0.60,2.2),(9.43,-0.62,2.3),(9.35,-0.64,1.9),(9.38,-0.66,2.2),
           (9.42,-0.65,2.3),(9.31,-0.67,1.8),(9.30,-0.70,1.8),(9.34,-0.72,2.1),(9.38,-0.73,2.2),(9.32,-0.76,1.9),
           (9.36,-0.78,2.0),(9.30,-0.79,1.8),(9.40,-0.69,2.3),(9.44,-0.58,2.3),(9.46,-0.56,2.2),(9.41,-0.56,1.9),
           (9.38,-0.57,1.8),(9.34,-0.62,2.0),(9.37,-0.64,2.1),(9.39,-0.62,2.3),(9.33,-0.69,1.9),(9.36,-0.70,2.2),
           (9.32,-0.73,2.0),(9.41,-0.59,2.2),(9.43,-0.57,2.3),(9.39,-0.76,2.1),(9.34,-0.80,1.9)]
P3_SPK = [(9.82,-0.30,3.2),(9.86,-0.28,3.1),(9.90,-0.26,3.3),(9.94,-0.24,3.0),(9.97,-0.22,3.2),(9.78,-0.33,3.0),
          (9.84,-0.34,3.3),(9.88,-0.32,3.0),(9.92,-0.30,3.2),(9.96,-0.27,3.1),(9.74,-0.37,3.2),(9.80,-0.38,3.0),
          (9.70,-0.40,3.1),(9.66,-0.43,3.0),(9.62,-0.46,3.2),(9.58,-0.48,3.0),(9.72,-0.33,3.0),(9.76,-0.30,2.9),
          (9.68,-0.37,3.0),(9.64,-0.40,2.9),(9.60,-0.43,3.1),(9.86,-0.36,3.3),(9.92,-0.35,3.3),(9.98,-0.30,3.1),
          (10.02,-0.26,3.0),(9.80,-0.42,3.1),(9.74,-0.46,3.1),(9.66,-0.50,3.0),(9.56,-0.54,3.0),(9.84,-0.26,2.9),
          (9.78,-0.26,2.8),(9.88,-0.22,2.9),(9.92,-0.19,3.0),(9.96,-0.16,2.9),(9.70,-0.30,2.8),(9.64,-0.35,2.8),
          (9.58,-0.41,2.8),(9.52,-0.47,2.9),(9.48,-0.52,2.8),(9.86,-0.12,3.4),(9.82,-0.16,3.3),(9.76,-0.20,3.4),
          (9.70,-0.24,3.3),(9.66,-0.28,3.4),(9.60,-0.32,3.1)]

# ---------------- chart ----------------
xscale = alt.Scale(domain=X_DOMAIN, nice=False, zero=False)
yscale = alt.Scale(domain=Y_DOMAIN, nice=False, zero=False)
cscale = alt.Scale(scheme="viridis", domain=G_DOMAIN, clamp=True)

x_axis = alt.Axis(values=X_TICKS, format=".1f", title="log(Age) [Gyr]", grid=True)
y_axis_main = alt.Axis(values=Y_TICKS, format=".1f", title="[C/N]", grid=True)
y_axis_side = alt.Axis(values=Y_TICKS, labels=False, title=None, grid=True)

s_legend = alt.Legend(
    title=None, orient="top-left", offset=7, symbolType="stroke", symbolStrokeWidth=1.5,
    symbolDash=[5.5, 2.4], symbolSize=480, labelFontSize=13.5, labelFont=FONT, labelColor="black",
    padding=4, strokeColor="#cccccc", fillColor="white", cornerRadius=3, labelOffset=8)

TEAL = dict(fillOpacity=0.86, strokeWidth=4, strokeOpacity=0.35, interpolate="monotone")
PURP = dict(fillOpacity=0.78, strokeWidth=3, strokeOpacity=0.3, interpolate="monotone")
SOFT = dict(fillOpacity=0.2, strokeOpacity=0, interpolate="basis")
CORE = dict(fillOpacity=0.22, strokeOpacity=0, interpolate="basis")
CORE2 = dict(fillOpacity=0.3, strokeOpacity=0, interpolate="basis")
FAINT = dict(fillOpacity=0.14, strokeOpacity=0, interpolate="basis")


def band_layer(xs, lo, hi, g, style, y_axis):
    df = pd.DataFrame({"x": xs, "lo": lo, "hi": hi, "g": [g] * len(xs)})
    return alt.Chart(df).mark_area(clip=True, **style).encode(
        x=alt.X("x:Q", scale=xscale, axis=x_axis),
        y=alt.Y("lo:Q", scale=yscale, axis=y_axis),
        y2="hi:Q",
        color=alt.Color("g:Q", scale=cscale, legend=None),
        stroke=alt.Stroke("g:Q", scale=cscale, legend=None),
    )


def panel(i, washes, teal, purp, pts, y_axis, legend_line):
    layers = []
    for (xs, lo, hi, g, style) in washes:
        layers.append(band_layer(xs, lo, hi, g, style, y_axis))
    layers.append(band_layer(teal[0], teal[1], teal[2], BAND_G_TEAL[i], TEAL, y_axis))
    layers.append(band_layer(purp[0], purp[1], purp[2], BAND_G_PURP[i], PURP, y_axis))
    pdf = pd.DataFrame(pts, columns=["x", "y", "g"])
    layers.append(alt.Chart(pdf).mark_circle(size=8, opacity=1, clip=True).encode(
        x=alt.X("x:Q", scale=xscale, axis=x_axis),
        y=alt.Y("y:Q", scale=yscale, axis=y_axis),
        color=alt.Color("g:Q", scale=cscale, legend=None),
    ))
    ldf = pd.DataFrame({"x": SPOO_X, "y": SPOO_Y, "label": SPOO_LABEL})
    line = alt.Chart(ldf).mark_line(strokeDash=[5.5, 2.4], strokeWidth=1.5, clip=True, color="#ff0000")
    if legend_line:
        line = line.encode(
            x=alt.X("x:Q", scale=xscale, axis=x_axis),
            y=alt.Y("y:Q", scale=yscale, axis=y_axis),
            strokeDash=alt.StrokeDash("label:N", scale=alt.Scale(domain=SPOO_LABEL[:1], range=[[5.5, 2.4]]),
                                      legend=s_legend),
        )
    else:
        line = line.encode(
            x=alt.X("x:Q", scale=xscale, axis=x_axis),
            y=alt.Y("y:Q", scale=yscale, axis=y_axis),
        )
    layers.append(line)
    return alt.layer(*layers).properties(width=417, height=426, title=TITLES[i])


p1 = panel(0,
           [(P1_YELW_X, P1_YELW_LO, P1_YELW_HI, BAND_G_YELW[0], SOFT),
            (P1_YELC_X, P1_YELC_LO, P1_YELC_HI, BAND_G_YELW[0], CORE),
            (P1_GRNW_X, P1_GRNW_LO, P1_GRNW_HI, BAND_G_GRNW[0], FAINT)],
           (P1_TEAL_X, P1_TEAL_LO, P1_TEAL_HI), (P1_PURP_X, P1_PURP_LO, P1_PURP_HI),
           P1_OUT + P1_YEL + P1_GRN + P1_TAIL + P1_SPK, y_axis_main, False)
p2 = panel(1,
           [(P2_YELW_X, P2_YELW_LO, P2_YELW_HI, BAND_G_YELW[1], SOFT),
            (P2_YELC_X, P2_YELC_LO, P2_YELC_HI, BAND_G_YELW[1], CORE2),
            (P2_GRNW_X, P2_GRNW_LO, P2_GRNW_HI, BAND_G_GRNW[1], SOFT),
            (P2_GRNC_X, P2_GRNC_LO, P2_GRNC_HI, BAND_G_GRNW[1], CORE2)],
           (P2_TEAL_X, P2_TEAL_LO, P2_TEAL_HI), (P2_PURP_X, P2_PURP_LO, P2_PURP_HI),
           P2_OUT + P2_YEL + P2_GRN + P2_TAIL + P2_SPK, y_axis_side, False)
p3 = panel(2,
           [(P3_YELW_X, P3_YELW_LO, P3_YELW_HI, BAND_G_YELW[2], FAINT),
            (P3_GRNW_X, P3_GRNW_LO, P3_GRNW_HI, BAND_G_GRNW[2], FAINT)],
           (P3_TEAL_X, P3_TEAL_LO, P3_TEAL_HI), (P3_PURP_X, P3_PURP_LO, P3_PURP_HI),
           P3_OUT + P3_YEL + P3_GRN + P3_TAIL + P3_SPK, y_axis_side, True)

# ---------------- colour bar (drawn from the same viridis scale) ----------------
cb_y = alt.Scale(domain=CB_VIEW, nice=False, zero=False)
cb_axis = alt.Axis(orient="right", values=G_TICKS, format=".2f", title="log g", grid=False,
                   titleAngle=270, titleBaseline="top", titlePadding=6, labelPadding=4)
cb_grad = alt.Chart(alt.sequence(1.65, 3.5, 0.005, as_="g")).transform_calculate(
    g2="min(datum.g + 0.012, 3.5)"
).mark_rect().encode(
    y=alt.Y("g:Q", scale=cb_y, axis=cb_axis),
    y2="g2:Q",
    color=alt.Color("g:Q", scale=cscale, legend=None),
)
cb_frame = alt.Chart(pd.DataFrame({"lo": G_DOMAIN[:1], "hi": G_DOMAIN[1:]})).mark_rect(
    filled=False, color="black", strokeWidth=0.8
).encode(y=alt.Y("lo:Q", scale=cb_y, axis=cb_axis), y2="hi:Q")
cbar = alt.layer(cb_grad, cb_frame).properties(
    width=19, height=426, title=" ", view=alt.ViewBackground(stroke="transparent"))

panels = (
    alt.hconcat(p1, p2, p3, spacing=12)
    .resolve_scale(strokeDash="independent")
    .resolve_legend(strokeDash="independent")
)

chart = (
    alt.hconcat(panels, cbar, spacing=61)
    .properties(padding={"left": 3, "top": 0, "right": 2, "bottom": 2})
    .configure(font=FONT)
    .configure_view(stroke="black", strokeWidth=0.8)
    .configure_axis(labelFontSize=13, titleFontSize=13, titleFontWeight="normal", labelColor="black",
                    titleColor="black", tickColor="black", tickSize=3.5, tickWidth=0.8,
                    gridColor="#b0b0b0", gridWidth=0.8, gridOpacity=1, domain=False, zindex=1)
    .configure_axisY(labelPadding=6, titlePadding=8)
    .configure_axisX(labelPadding=3, titlePadding=8)
    .configure_title(fontSize=16, fontWeight="normal", color="black", offset=2, font=FONT)
)

chart.save("out.html", embed_options={"renderer": "svg", "actions": False})
